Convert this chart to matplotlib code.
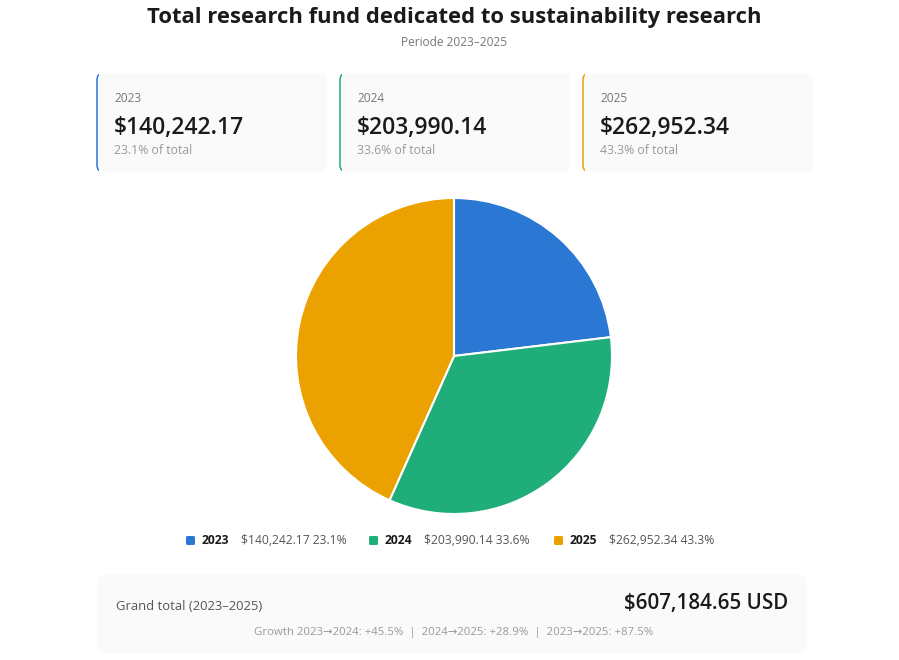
import matplotlib.pyplot as plt
from matplotlib.patches import FancyBboxPatch, Rectangle

plt.rcParams['font.family'] = ['Open Sans', 'DejaVu Sans']

# data
years = ['2023', '2024', '2025']
funds = [140242.17, 203990.14, 262952.34]
colors = ['#2b78d4', '#1fae7a', '#eba200']
currency = 'USD'

total = sum(funds)
shares = [f / total * 100 for f in funds]

TXT = '#1a1a1a'
GREY = '#777777'
CARD_BG = '#fafafb'

fig = plt.figure(figsize=(8.99, 6.60), dpi=100)
fig.patch.set_facecolor('white')

# overlay axes in pixel coordinates for the dashboard layout
lay = fig.add_axes([0, 0, 1, 1])
lay.set_xlim(0, 899)
lay.set_ylim(660, 0)
lay.axis('off')

lay.text(454, 17, 'Total research fund dedicated to sustainability research',
         ha='center', va='center', fontsize=15.8, fontweight='bold', color=TXT)
lay.text(454, 43, f'Periode {years[0]}\u2013{years[-1]}', ha='center', va='center',
         fontsize=8.6, color=GREY)

# summary cards
card_x = [97, 340, 583]
card_w, card_y, card_h = 230, 73, 99
for x0, yr, val, pct, col in zip(card_x, years, funds, shares, colors):
    box = FancyBboxPatch((x0, card_y), card_w, card_h,
                         boxstyle='round,pad=0,rounding_size=7',
                         facecolor=CARD_BG, edgecolor='none', zorder=1)
    lay.add_patch(box)
    edge = FancyBboxPatch((x0, card_y), card_w, card_h,
                          boxstyle='round,pad=0,rounding_size=7',
                          facecolor='none', edgecolor=col, linewidth=1.1, zorder=2)
    lay.add_patch(edge)
    clip = Rectangle((x0 - 3, card_y - 3), 5, card_h + 6, transform=lay.transData)
    edge.set_clip_path(clip)
    lay.text(x0 + 17, 99, yr, ha='left', va='center', fontsize=8.6, color=GREY)
    lay.text(x0 + 17, 128, f'${val:,.2f}', ha='left', va='center',
             fontsize=16.5, fontweight='semibold', color=TXT)
    lay.text(x0 + 17, 151, f'{pct:.1f}% of total', ha='left', va='center',
             fontsize=8.8, color='#999999')

# pie
pie_ax = fig.add_axes([(454 - 158) / 899, (660 - 514) / 660, 316 / 899, 316 / 660])
pie_ax.pie(funds, colors=colors, startangle=90, counterclock=False,
           wedgeprops=dict(edgecolor='white', linewidth=1.5))
pie_ax.set_xlim(-1.0, 1.0)
pie_ax.set_ylim(-1.0, 1.0)
pie_ax.set_aspect('equal')
pie_ax.axis('off')

# legend
leg_x = [190, 373, 558]
for x0, yr, val, pct, col in zip(leg_x, years, funds, shares, colors):
    lay.add_patch(FancyBboxPatch((x0 - 4, 536), 9, 9,
                                 boxstyle='round,pad=0,rounding_size=1.5',
                                 facecolor=col, edgecolor='none'))
    lay.text(x0 + 12, 541, yr, ha='left', va='center', fontsize=8.7,
             fontweight='bold', color=TXT)
    lay.text(x0 + 51, 541, f'${val:,.2f} {pct:.1f}%', ha='left', va='center',
             fontsize=8.7, color='#555555')

# grand total box
lay.add_patch(FancyBboxPatch((97, 575), 710, 78,
                             boxstyle='round,pad=0,rounding_size=7',
                             facecolor=CARD_BG, edgecolor='none'))
lay.text(116, 606, f'Grand total ({years[0]}\u2013{years[-1]})', ha='left', va='center',
         fontsize=9.4, color='#555555')
lay.text(788, 604, f'${total:,.2f} {currency}', ha='right', va='center',
         fontsize=14.8, fontweight='semibold', color=TXT)

g1 = (funds[1] / funds[0] - 1) * 100
g2 = (funds[2] / funds[1] - 1) * 100
g3 = (funds[2] / funds[0] - 1) * 100
growth = (f'Growth {years[0]}\u2192{years[1]}: +{g1:.1f}%  |  '
          f'{years[1]}\u2192{years[2]}: +{g2:.1f}%  |  '
          f'{years[0]}\u2192{years[2]}: +{g3:.1f}%')
lay.text(454, 633, growth, ha='center', va='center', fontsize=8.2, color='#999999')

fig.savefig('out.png', dpi=100, facecolor='white')
plt.close(fig)
